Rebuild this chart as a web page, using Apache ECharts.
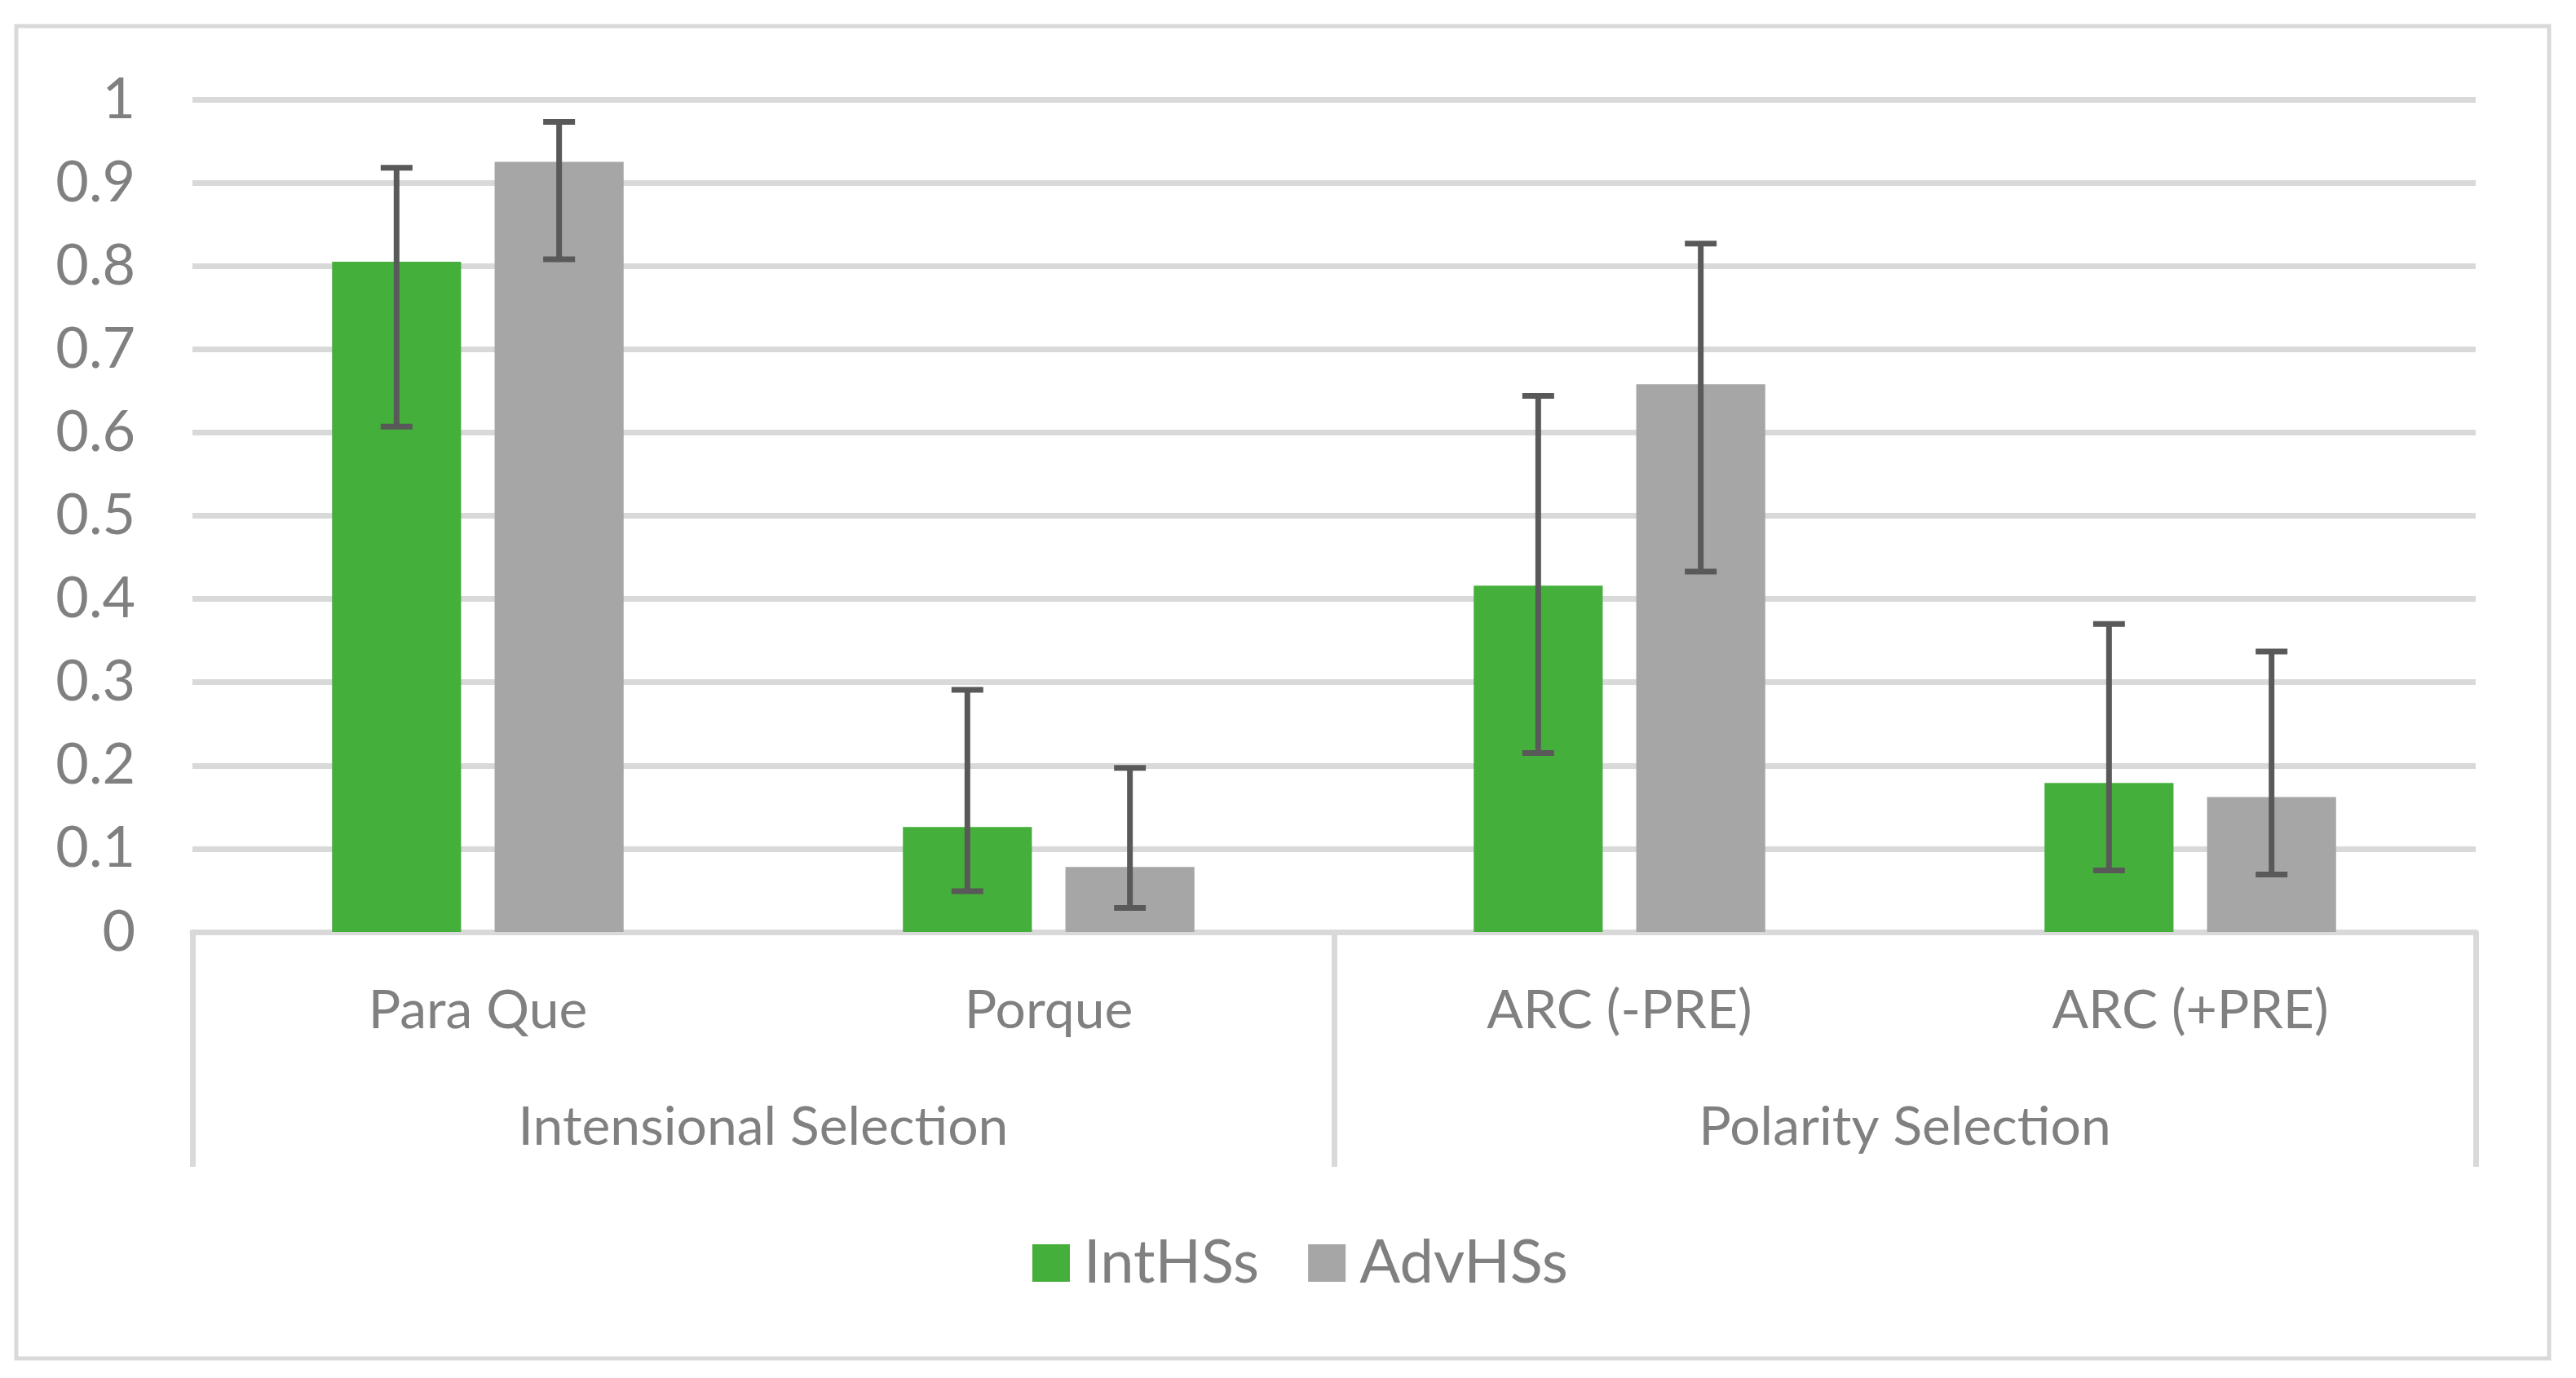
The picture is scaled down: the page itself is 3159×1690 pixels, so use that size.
<!DOCTYPE html>
<html>
<head>
<meta charset="utf-8">
<script src="https://cdn.jsdelivr.net/npm/echarts@6/dist/echarts.min.js"></script>
<style>html,body{margin:0;padding:0;background:#fff;}#c{width:3159px;height:1690px;}</style>
</head>
<body>
<div id="c"></div>
<script>
const categories = ['Para Que', 'Porque', 'ARC (-PRE)', 'ARC (+PRE)'];
const groups = ['Intensional Selection', 'Polarity Selection'];
const seriesNames = ['IntHSs', 'AdvHSs'];
const intValues = [0.805, 0.126, 0.416, 0.179];
const intLow    = [0.607, 0.049, 0.215, 0.074];
const intHigh   = [0.918, 0.291, 0.644, 0.370];
const advValues = [0.925, 0.078, 0.658, 0.162];
const advLow    = [0.808, 0.029, 0.433, 0.069];
const advHigh   = [0.973, 0.197, 0.827, 0.337];

const FONT = 'Lato, "Open Sans", sans-serif';
const TXT = '#808080';
const GRID = '#d9d9d9';
const BAR_W = 0.226, BAR_GAP = 0.26;

function errData(low, high) {
  return categories.map((c, i) => [i, low[i], high[i]]);
}
function errRender(sign) {
  return function (params, api) {
    const band = api.size([1, 0])[0];
    const off = sign * band * BAR_W * (1 + BAR_GAP) / 2;
    const lo = api.coord([api.value(0), api.value(1)]);
    const hi = api.coord([api.value(0), api.value(2)]);
    const x = lo[0] + off;
    const cap = 19.5;
    const st = { stroke: '#595959', lineWidth: 7 };
    return {
      type: 'group',
      children: [
        { type: 'line', shape: { x1: x, y1: hi[1], x2: x, y2: lo[1] }, style: st },
        { type: 'line', shape: { x1: x - cap, y1: hi[1], x2: x + cap, y2: hi[1] }, style: st },
        { type: 'line', shape: { x1: x - cap, y1: lo[1], x2: x + cap, y2: lo[1] }, style: st }
      ]
    };
  };
}

const chart = echarts.init(document.getElementById('c'), null, { renderer: 'canvas' });
chart.setOption({
  animation: false,
  backgroundColor: '#fff',
  graphic: [{
    type: 'rect', shape: { x: 20, y: 32, width: 3106, height: 1634 },
    style: { fill: 'none', stroke: GRID, lineWidth: 5 }, z: -10
  }],
  grid: { left: 236, right: 123, top: 122, bottom: 547, containLabel: false },
  legend: {
    data: seriesNames, left: 1261, top: 1507,
    icon: 'rect', itemWidth: 46, itemHeight: 46, itemGap: 60,
    textStyle: { color: TXT, fontSize: 74, fontFamily: FONT, padding: [0, 0, 0, 12] }
  },
  xAxis: [{
    type: 'category', data: categories, position: 'bottom',
    axisLine: { show: true, lineStyle: { color: GRID, width: 7 } },
    axisTick: { show: false },
    axisLabel: { color: TXT, fontSize: 66, fontFamily: FONT, margin: 64 }
  }, {
    type: 'category', data: groups, position: 'bottom',
    axisLine: { show: false },
    axisTick: { show: true, length: 288, interval: 0, lineStyle: { color: GRID, width: 7 } },
    axisLabel: { color: TXT, fontSize: 66, fontFamily: FONT, margin: 207, interval: 0 }
  }],
  yAxis: {
    type: 'value', min: 0, max: 1, interval: 0.1,
    axisLine: { show: false }, axisTick: { show: false },
    axisLabel: { color: TXT, fontSize: 70, fontFamily: FONT, margin: 70 },
    splitLine: { lineStyle: { color: GRID, width: 7 } }
  },
  series: [{
    name: seriesNames[0], type: 'bar', data: intValues,
    barWidth: (BAR_W * 100) + '%', barGap: (BAR_GAP * 100) + '%',
    itemStyle: { color: '#45af3c' }
  }, {
    name: seriesNames[1], type: 'bar', data: advValues,
    barWidth: (BAR_W * 100) + '%', barGap: (BAR_GAP * 100) + '%',
    itemStyle: { color: '#a6a6a6' }
  }, {
    type: 'custom', name: 'errInt', data: errData(intLow, intHigh),
    encode: { x: 0, y: [1, 2] }, renderItem: errRender(-1), z: 5
  }, {
    type: 'custom', name: 'errAdv', data: errData(advLow, advHigh),
    encode: { x: 0, y: [1, 2] }, renderItem: errRender(1), z: 5
  }]
});
</script>
</body>
</html>
